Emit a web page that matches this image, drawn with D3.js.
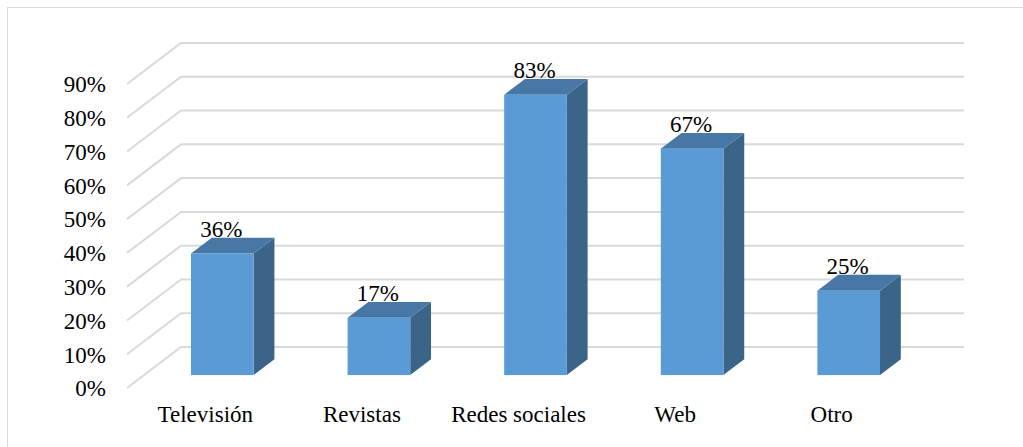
<!DOCTYPE html>
<html>
<head>
<meta charset="utf-8">
<script src="https://cdn.jsdelivr.net/npm/d3@7/dist/d3.min.js"></script>
<style>
  html, body { margin: 0; padding: 0; background: #fff; }
  svg { display: block; }
  svg text { font-family: 'Liberation Serif', serif !important; }
</style>
</head>
<body>
<svg id="chart" width="1023" height="447" font-family="Liberation Serif"></svg>
<script>
// Media consulted by respondents (share of responses)
const categories = ["Televisión", "Revistas", "Redes sociales", "Web", "Otro"];
const values = [0.36, 0.17, 0.83, 0.67, 0.25];
const valueLabels = ["36%", "17%", "83%", "67%", "25%"];
const tickValues = [0, 0.1, 0.2, 0.3, 0.4, 0.5, 0.6, 0.7, 0.8, 0.9];

const FONT = "Liberation Serif";
const svg = d3.select("#chart");
const W = 1023, H = 447;

// Outer frame
svg.append("rect")
  .attr("x", 7.5).attr("y", 7.5)
  .attr("width", W - 7).attr("height", H - 7)
  .attr("fill", "none").attr("stroke", "#d9d9d9").attr("stroke-width", 1);

// Oblique projection: depth 0 = front of floor, depth 1 = back wall
const depthX = 54, depthY = -41;
const proj = (x, y, d) => [x + depthX * d, y + depthY * d];

const x = d3.scaleBand().domain(categories).range([127, 910])
  .paddingInner(0.6).paddingOuter(0.3);
const xLabel = d3.scaleBand().domain(categories).range([127, 910]);
const y = d3.scaleLinear().domain([0, 0.9]).range([388, 84]);

// Gridlines: diagonal along the side wall, then horizontal along the back wall
const grid = svg.append("g");
tickValues.forEach(t => {
  const [x0, y0] = proj(127, y(t), 0);
  const [x1, y1] = proj(127, y(t), 1);
  const [x2] = proj(910, y(t), 1);
  grid.append("path")
    .attr("d", `M${x0},${y0}L${x1},${y1}L${x2},${y1}`)
    .attr("fill", "none").attr("stroke", "#d9d9d9").attr("stroke-width", 2);
});

// Y axis labels
const yAxis = d3.axisLeft(y).tickValues(tickValues).tickFormat(d3.format(".0%")).tickSize(0).tickPadding(0);
const yg = svg.append("g").attr("transform", "translate(106,0)").call(yAxis);
yg.attr("font-family", FONT).attr("font-size", 23);
yg.select(".domain").remove();
yg.selectAll("text").attr("fill", "#000").attr("dy", "0.34em");

// Category labels along the front edge
const xAxis = d3.axisBottom(xLabel).tickSize(0).tickPadding(0);
const xg = svg.append("g").attr("transform", "translate(0,406)").call(xAxis);
xg.attr("font-family", FONT).attr("font-size", 23);
xg.select(".domain").remove();
xg.selectAll("text").attr("fill", "#000").attr("dy", "0.71em");

// 3D bars
const dFront = 0.315, dBack = 0.7;
const bars = svg.append("g").attr("font-family", FONT).attr("font-size", 23);
categories.forEach((c, i) => {
  const xl = x(c), xr = x(c) + x.bandwidth();
  const yb = y(0), yt = y(values[i]);
  const P = (xx, yy, d) => proj(xx, yy, d).join(",");
  // side face
  bars.append("polygon")
    .attr("points", [P(xr, yb, dFront), P(xr, yb, dBack), P(xr, yt, dBack), P(xr, yt, dFront)].join(" "))
    .attr("fill", "#3b6489");
  // top face
  bars.append("polygon")
    .attr("points", [P(xl, yt, dFront), P(xl, yt, dBack), P(xr, yt, dBack), P(xr, yt, dFront)].join(" "))
    .attr("fill", "#4677a5");
  // front face
  const [fx, fy] = proj(xl, yt, dFront);
  bars.append("rect")
    .attr("x", fx).attr("y", fy)
    .attr("width", x.bandwidth()).attr("height", yb - yt)
    .attr("fill", "#5b9bd5");
  // value label
  const [lx] = proj(xl + x.bandwidth() / 2, yt, dFront);
  const [, ly] = proj(xl, yt, dBack);
  bars.append("text")
    .attr("x", lx - 1).attr("y", ly - 1)
    .attr("text-anchor", "middle")
    .attr("fill", "#000")
    .text(valueLabels[i]);
});
</script>
</body>
</html>
